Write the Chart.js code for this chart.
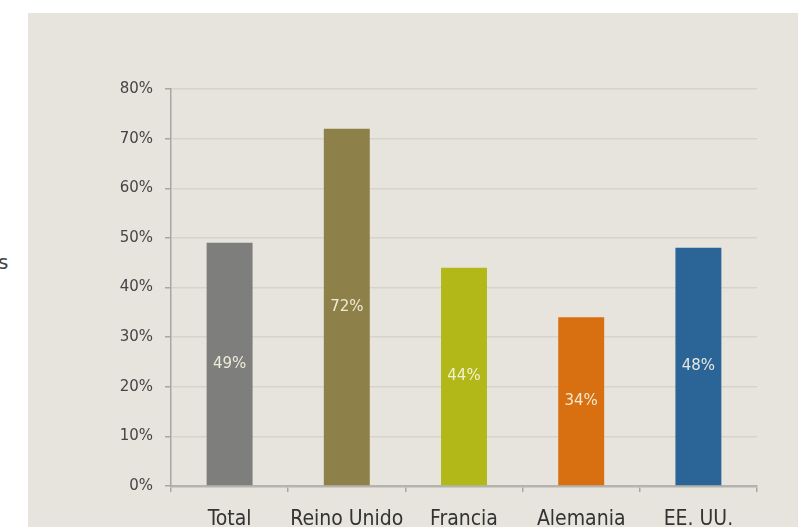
<!DOCTYPE html>
<html>
<head>
<meta charset="utf-8">
<script src="https://cdn.jsdelivr.net/npm/chart.js@4.4.1/dist/chart.umd.min.js"></script>
<style>
    html, body { margin: 0; padding: 0; background: #ffffff; overflow: hidden; }
    #panel { position: absolute; left: 28px; top: 13px; width: 770px; height: 514px; background: #e6e4dd; }
    #side { position: absolute; left: -2px; top: 250px; font: 20px "DejaVu Sans", sans-serif; color: #444; }
    #wrap { position: absolute; left: 0; top: 0; width: 798px; height: 527px; }
</style>
</head>
<body>
<div id="panel"></div>
<div id="side">s</div>
<div id="wrap"><canvas id="chart"></canvas></div>
<script>
const categories = ["Total", "Reino Unido", "Francia", "Alemania", "EE. UU."];
const values = [49, 72, 44, 34, 48];
const barColors = ["#7e7e7c", "#8e8049", "#b2b818", "#d86f10", "#2b6496"];
const yTicks = [0, 10, 20, 30, 40, 50, 60, 70, 80];

// white percentage labels in the middle of each bar
const barLabels = {
    id: 'barLabels',
    afterDatasetsDraw(chart)
    {
        const ctx = chart.ctx;
        const meta = chart.getDatasetMeta(0);
        ctx.save();
        ctx.font = '15px "DejaVu Sans", sans-serif';
        ctx.fillStyle = 'rgba(250, 246, 228, 0.9)';
        ctx.textAlign = 'center';
        ctx.textBaseline = 'middle';
        meta.data.forEach((bar, i) => {
            const c = bar.getCenterPoint();
            ctx.fillText(values[i] + '%', c.x, c.y);
        });
        ctx.restore();
    }
};

const ctx = document.getElementById('chart').getContext('2d');

const chart = new Chart(ctx, {
    type: 'bar',
    data: {
        labels: categories,
        datasets: [{
            data: values,
            backgroundColor: barColors,
            borderWidth: 0,
            barPercentage: 0.8,
            categoryPercentage: 0.49
        }]
    },
    options: {
        responsive: true,
        maintainAspectRatio: false,
        animation: false,
        layout: {
            padding: { left: 0, right: 41, top: 89, bottom: 0 }
        },
        plugins: {
            legend: { display: false },
            tooltip: { enabled: false }
        },
        scales: {
            x: {
                grid: {
                    drawOnChartArea: false,
                    drawTicks: true,
                    tickLength: 6,
                    color: '#a8a6a0',
                    lineWidth: 1.5
                },
                border: { color: '#b5b3ad', width: 2.5 },
                ticks: {
                    padding: 15,
                    autoSkip: false,
                    maxRotation: 0,
                    minRotation: 0,
                    color: '#333333',
                    font: { family: '"Liberation Sans Narrow", "DejaVu Sans Condensed", sans-serif', size: 21 }
                },
                afterFit: function(scale) { scale.height = 41; }
            },
            y: {
                min: 0,
                max: 80,
                afterBuildTicks: function(scale) {
                    scale.ticks = yTicks.map(v => ({ value: v }));
                },
                grid: {
                    color: '#d8d3c9',
                    lineWidth: 1.5,
                    tickLength: 6,
                    tickColor: '#a8a6a0'
                },
                border: { color: '#a8a6a0', width: 1.5 },
                ticks: {
                    padding: 12,
                    color: '#454545',
                    font: { family: '"DejaVu Sans", sans-serif', size: 15 },
                    callback: function(v) { return v + '%'; }
                },
                afterFit: function(scale) { scale.width = 171; }
            }
        }
    },
    plugins: [barLabels]
});
</script>
</body>
</html>
